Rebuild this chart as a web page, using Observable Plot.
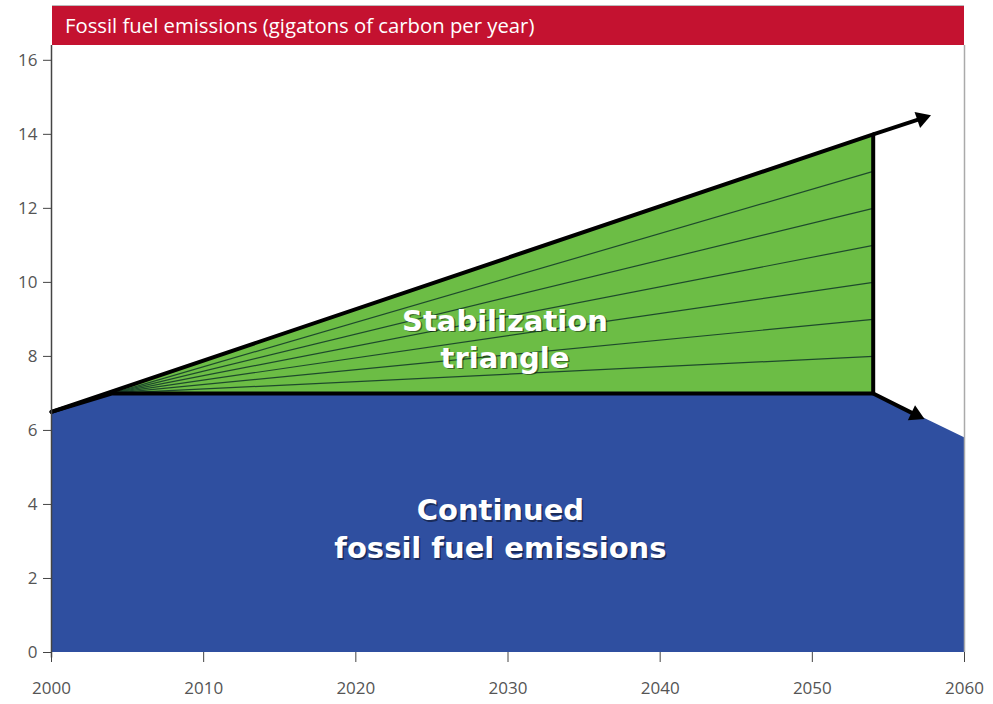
<!DOCTYPE html>
<html>
<head>
<meta charset="utf-8">
<script src="https://cdn.jsdelivr.net/npm/d3@7"></script>
<script src="https://cdn.jsdelivr.net/npm/@observablehq/plot@0.6"></script>
<style>
  html, body { margin: 0; padding: 0; background: #fff; }
  #wrap { position: relative; width: 993px; height: 704px; }
  #title {
    position: absolute; left: 52px; top: 5px; width: 912px; height: 40px;
    background: #c41230; color: #fff; box-sizing: border-box;
    font-family: "Open Sans", sans-serif; font-size: 20.3px;
    line-height: 39px; padding-left: 13px; border-top: 1px solid #bbb;
  }
  #chart { position: absolute; left: 0; top: 0; }
</style>
</head>
<body>
<div id="wrap"><div id="chart"></div><div id="title">Fossil fuel emissions (gigatons of carbon per year)</div></div>
<script>
// Continued fossil fuel emissions (blue area)
const contYears = [2000, 2004, 2054, 2060];
const contValues = [6.5, 7.0, 7.0, 5.8];
// Business-as-usual path (top of stabilization triangle)
const bauYears = [2000, 2054];
const bauValues = [6.5, 14.0];
// Triangle: apex and wedge boundaries at 2054
const apexYear = 2004;
const apexValue = 7.0;
const endYear = 2054;
const wedgeEnds = [8, 9, 10, 11, 12, 13];
// Arrow continuations: shaft start, head centre, head direction (degrees)
const arrowStartX = [2054, 2054];
const arrowStartY = [14.0, 7.0];
const arrowHeadX = [2057.2, 2056.8];
const arrowHeadY = [14.43, 6.42];
const arrowAngle = [70.7, 115.5];
// Ticks
const xTicks = [2000, 2010, 2020, 2030, 2040, 2050, 2060];
const yTicks = [0, 2, 4, 6, 8, 10, 12, 14, 16];
// Labels
const labelX = [2029.8, 2029.8, 2029.5, 2029.5];
const labelY = [8.95, 7.95, 3.82, 2.8];
const labelText = ["Stabilization", "triangle", "Continued", "fossil fuel emissions"];

const cont = contYears.map((x, i) => ({x, y: contValues[i]}));
const bauAt = yr => bauValues[0] + (bauValues[1] - bauValues[0]) * (yr - bauYears[0]) / (bauYears[1] - bauYears[0]);
const green = [
  {x: apexYear, y1: apexValue, y2: bauAt(apexYear)},
  {x: endYear, y1: apexValue, y2: bauValues[1]}
];
const bau = bauYears.map((x, i) => ({x, y: bauValues[i]}));
const wedges = wedgeEnds.map(v => ({x1: apexYear, y1: apexValue, x2: endYear, y2: v}));
const arrows = arrowStartX.map((x1, i) => ({x1, y1: arrowStartY[i], x2: arrowHeadX[i], y2: arrowHeadY[i], a: arrowAngle[i]}));
const labels = labelText.map((text, i) => ({x: labelX[i], y: labelY[i], text}));

const tickFont = "'Open Sans', sans-serif";
const boldFont = "'DejaVu Sans', Verdana, sans-serif";

const plot = Plot.plot({
  width: 993,
  height: 704,
  marginLeft: 51,
  marginRight: 29,
  marginTop: 45,
  marginBottom: 52,
  x: {domain: [2000, 2060]},
  y: {domain: [0, 16.4]},
  style: {fontFamily: tickFont, fontSize: "17px", color: "#555", background: "transparent"},
  marks: [
    Plot.areaY(cont, {x: "x", y: "y", fill: "#2f4fa0"}),
    Plot.areaY(green, {x: "x", y1: "y1", y2: "y2", fill: "#6cbd45"}),
    Plot.link(wedges, {x1: "x1", y1: "y1", x2: "x2", y2: "y2", stroke: "#1e4a2c", strokeWidth: 1.2}),
    Plot.lineY(cont.slice(0, 3), {x: "x", y: "y", stroke: "#000", strokeWidth: 4}),
    Plot.lineY(bau, {x: "x", y: "y", stroke: "#000", strokeWidth: 4}),
    Plot.ruleX([endYear], {y1: apexValue, y2: bauValues[1], stroke: "#000", strokeWidth: 4}),
    Plot.link(arrows, {x1: "x1", y1: "y1", x2: "x2", y2: "y2", stroke: "#000", strokeWidth: 4}),
    Plot.dot(arrows, {x: "x2", y: "y2", symbol: "triangle2", r: 8, rotate: "a", fill: "#000", stroke: "none"}),
    Plot.text(labels, {x: "x", y: "y", text: "text", dx: 1.5, dy: 1.5, fill: "#000", fillOpacity: 0.45, fontSize: 29, fontWeight: "bold", fontFamily: boldFont}),
    Plot.text(labels, {x: "x", y: "y", text: "text", fill: "#fff", fontSize: 29, fontWeight: "bold", fontFamily: boldFont}),
    Plot.ruleX([2060], {y1: 0, y2: 16.4, stroke: "#aaa", strokeWidth: 1.5}),
    Plot.ruleX([2000], {y1: -0.15, y2: 16.4, stroke: "#444", strokeWidth: 1.5}),
    Plot.axisY({ticks: yTicks, tickSize: 8, tickPadding: 6, stroke: "#444", fill: "#555", label: null, fontSize: 17}),
    Plot.axisX({ticks: xTicks, tickSize: 10, tickPadding: 19, stroke: "#444", fill: "#555", label: null, tickFormat: d => String(d), fontSize: 17})
  ]
});
document.getElementById("chart").appendChild(plot);
</script>
</body>
</html>
